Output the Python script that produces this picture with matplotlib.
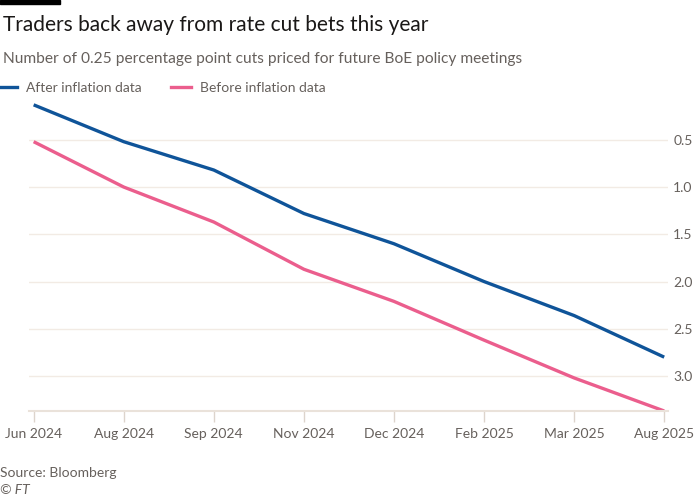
import matplotlib
matplotlib.use('Agg')
import matplotlib.pyplot as plt
from matplotlib.lines import Line2D

plt.rcParams['font.family'] = ['Lato', 'DejaVu Sans']

# データ
meetings = ['Jun 2024', 'Aug 2024', 'Sep 2024', 'Nov 2024', 'Dec 2024',
            'Feb 2025', 'Mar 2025', 'Aug 2025']
after_data = [0.13, 0.52, 0.82, 1.28, 1.60, 2.00, 2.36, 2.80]
before_data = [0.52, 1.00, 1.37, 1.87, 2.21, 2.62, 3.02, 3.37]
y_ticks = [0.5, 1.0, 1.5, 2.0, 2.5, 3.0]

blue = '#0f5499'
pink = '#eb5e8d'
grid_col = '#f2ebe4'
text_col = '#66605c'

fig = plt.figure(figsize=(7, 5), dpi=100)
fig.patch.set_facecolor('white')
ax = fig.add_axes([0.041, 0.178, 0.913, 0.618])

x = list(range(len(meetings)))
ax.plot(x, after_data, color=blue, linewidth=2.4, solid_capstyle='butt')
ax.plot(x, before_data, color=pink, linewidth=2.4, solid_capstyle='butt')

ax.set_xlim(-0.055, 7.04)
ax.set_ylim(3.37, 0.10)

ax.set_yticks(y_ticks)
ax.set_yticklabels([f'{v:.1f}' for v in y_ticks])
ax.yaxis.tick_right()
ax.tick_params(axis='y', length=0, pad=4, labelsize=10, labelcolor=text_col)
ax.grid(axis='y', color=grid_col, linewidth=1)

ax.set_xticks(x)
ax.set_xticklabels(meetings)
ax.tick_params(axis='x', length=8, width=1, color='#ddd4cc', pad=4,
               labelsize=10, labelcolor=text_col)

for side in ['top', 'right', 'left']:
    ax.spines[side].set_visible(False)
ax.spines['bottom'].set_color('#eae2da')
ax.spines['bottom'].set_linewidth(1.5)
ax.set_axisbelow(True)

# タイトル
fig.add_artist(plt.Rectangle((0, 0.992), 60 / 700, 0.008, color='black',
                             transform=fig.transFigure))
fig.text(0.004, 0.95, 'Traders back away from rate cut bets this year',
         fontsize=15, color='#1a1817', va='center')
fig.text(0.004, 0.882, 'Number of 0.25 percentage point cuts priced for future BoE policy meetings',
         fontsize=11.2, color=text_col, va='center')

handles = [Line2D([], [], color=blue, linewidth=2.4),
           Line2D([], [], color=pink, linewidth=2.4)]
fig.legend(handles, ['After inflation data', 'Before inflation data'],
           loc='center left', bbox_to_anchor=(-0.022, 0.824), ncol=2,
           frameon=False, handlelength=1.4, handletextpad=0.7,
           columnspacing=2.1, fontsize=10, labelcolor=text_col)

fig.text(0.0, 0.054, 'Source: Bloomberg', fontsize=10, color=text_col, va='center')
fig.text(0.0, 0.019, '© FT', fontsize=10, color=text_col, va='center', style='italic')

plt.savefig('out.png', dpi=100)
